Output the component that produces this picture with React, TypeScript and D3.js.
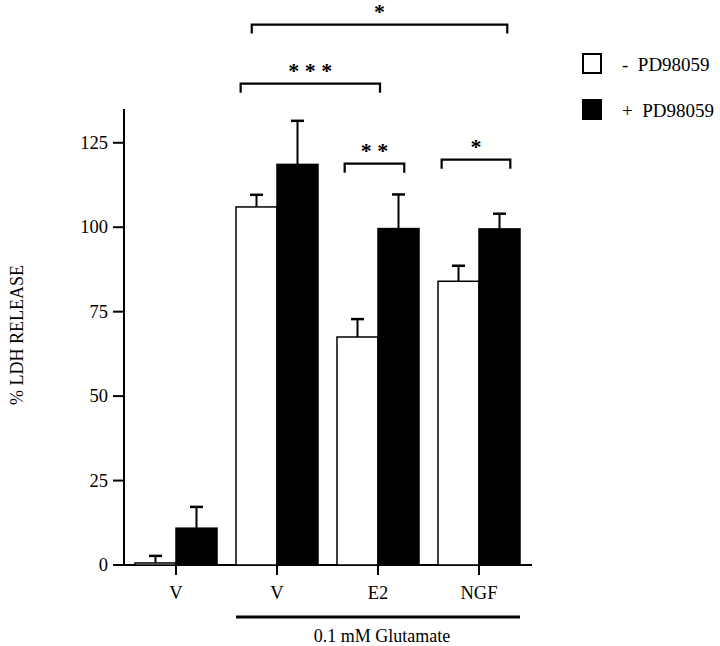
import * as d3 from "d3";
import { useRef, useEffect } from "react";

// Treatment groups along the x axis (first V is without glutamate)
const groups = ["V", "V", "E2", "NGF"];
const seriesNames = ["- PD98059", "+ PD98059"];
// % LDH release
const minusPD = [0.6, 106, 67.5, 84];
const minusPDErr = [2.1, 3.6, 5.3, 4.6];
const plusPD = [10.9, 118.6, 99.6, 99.5];
const plusPDErr = [6.3, 12.9, 10.1, 4.5];
const yTicks = [0, 25, 50, 75, 100, 125];

// Significance brackets: ends given as group index + fraction of a group step, level in % units
const bracketLabels = ["*", "* * *", "* *", "*"];
const bracketFrom = [[1, -0.25], [1, -0.36], [2, -0.33], [3, -0.37]];
const bracketTo = [[3, 0.28], [2, 0.02], [2, 0.26], [3, 0.31]];
const bracketLevels = [160, 142.5, 118.8, 120];

export default function App() {
  const chartRef = useRef(null);
  const width = 720;
  const height = 646;

  useEffect(() => {
    const svg = d3.select(chartRef.current);
    svg.selectAll("*").remove();

    const font = "'Liberation Serif', 'Times New Roman', serif";

    // Scales
    const y = d3.scaleLinear().domain([0, 135]).range([565, 109]);
    const x = d3
      .scaleBand()
      .domain(groups.map((d, i) => String(i)))
      .range([125.5, 529.5])
      .padding(0);
    const step = x.step();
    const barW = 41;
    const center = (i) => x(String(i)) + x.bandwidth() / 2;

    // Axes
    svg
      .append("line")
      .attr("x1", 124)
      .attr("x2", 124)
      .attr("y1", y(135))
      .attr("y2", y(0))
      .attr("stroke", "#000")
      .attr("stroke-width", 2);

    svg
      .append("line")
      .attr("x1", 114)
      .attr("x2", 532)
      .attr("y1", y(0))
      .attr("y2", y(0))
      .attr("stroke", "#000")
      .attr("stroke-width", 2);

    const yt = svg.append("g").selectAll("g").data(yTicks).join("g");
    yt.append("line")
      .attr("x1", 113)
      .attr("x2", 124)
      .attr("y1", (d) => y(d))
      .attr("y2", (d) => y(d))
      .attr("stroke", "#000")
      .attr("stroke-width", 2);
    yt.append("text")
      .attr("x", 108)
      .attr("y", (d) => y(d) + 6)
      .attr("text-anchor", "end")
      .attr("font-family", font)
      .attr("font-size", 18.5)
      .text((d) => d);

    const xt = svg.append("g").selectAll("g").data(groups).join("g");
    xt.append("line")
      .attr("x1", (d, i) => center(i))
      .attr("x2", (d, i) => center(i))
      .attr("y1", y(0))
      .attr("y2", y(0) + 10)
      .attr("stroke", "#000")
      .attr("stroke-width", 2);
    xt.append("text")
      .attr("x", (d, i) => center(i))
      .attr("y", 599)
      .attr("text-anchor", "middle")
      .attr("font-family", font)
      .attr("font-size", 18.5)
      .text((d) => d);

    svg
      .append("text")
      .attr("transform", "translate(23,335) rotate(-90)")
      .attr("text-anchor", "middle")
      .attr("font-family", font)
      .attr("font-size", 18)
      .text("% LDH RELEASE");

    // Glutamate underline
    svg
      .append("line")
      .attr("x1", center(1) - barW)
      .attr("x2", center(3) + barW)
      .attr("y1", 617)
      .attr("y2", 617)
      .attr("stroke", "#000")
      .attr("stroke-width", 3);
    svg
      .append("text")
      .attr("x", (center(1) + center(3)) / 2 + 4)
      .attr("y", 642)
      .attr("text-anchor", "middle")
      .attr("font-family", font)
      .attr("font-size", 18)
      .text("0.1 mM Glutamate");

    // Bars
    const seriesData = [
      { values: minusPD, errs: minusPDErr, fill: "#fff", side: -1 },
      { values: plusPD, errs: plusPDErr, fill: "#000", side: 0 },
    ];

    seriesData.forEach((s) => {
      const g = svg.append("g");
      const left = (i) => center(i) + s.side * barW;
      g.selectAll("line.err")
        .data(s.values)
        .join("line")
        .attr("class", "err")
        .attr("x1", (d, i) => left(i) + barW / 2)
        .attr("x2", (d, i) => left(i) + barW / 2)
        .attr("y1", (d) => y(d))
        .attr("y2", (d, i) => y(d + s.errs[i]))
        .attr("stroke", "#000")
        .attr("stroke-width", 2);
      g.selectAll("line.cap")
        .data(s.values)
        .join("line")
        .attr("class", "cap")
        .attr("x1", (d, i) => left(i) + barW / 2 - 6.5)
        .attr("x2", (d, i) => left(i) + barW / 2 + 6.5)
        .attr("y1", (d, i) => y(d + s.errs[i]))
        .attr("y2", (d, i) => y(d + s.errs[i]))
        .attr("stroke", "#000")
        .attr("stroke-width", 2.5);
      g.selectAll("rect")
        .data(s.values)
        .join("rect")
        .attr("x", (d, i) => left(i))
        .attr("y", (d) => y(d))
        .attr("width", barW)
        .attr("height", (d) => y(0) - y(d))
        .attr("fill", s.fill)
        .attr("stroke", "#000")
        .attr("stroke-width", 1.5);
    });

    // Significance brackets
    const bg = svg
      .append("g")
      .selectAll("g")
      .data(bracketLabels)
      .join("g");
    const bx1 = (i) => center(bracketFrom[i][0]) + bracketFrom[i][1] * step;
    const bx2 = (i) => center(bracketTo[i][0]) + bracketTo[i][1] * step;
    bg.append("path")
      .attr("d", (d, i) => {
        const ly = y(bracketLevels[i]);
        return `M${bx1(i)},${ly + 9}V${ly}H${bx2(i)}V${ly + 9}`;
      })
      .attr("fill", "none")
      .attr("stroke", "#000")
      .attr("stroke-width", 2.2);
    bg.append("text")
      .attr("x", (d, i) => (bx1(i) + bx2(i)) / 2)
      .attr("y", (d, i) => y(bracketLevels[i]) - 6)
      .attr("text-anchor", "middle")
      .attr("font-family", font)
      .attr("font-size", 22)
      .attr("font-weight", "bold")
      .text((d) => d);

    // Legend
    const lg = svg
      .append("g")
      .selectAll("g")
      .data(seriesNames)
      .join("g")
      .attr("transform", (d, i) => `translate(582,${53 + i * 46})`);
    lg.append("rect")
      .attr("x", 1)
      .attr("y", 1)
      .attr("width", 18)
      .attr("height", 19)
      .attr("fill", (d, i) => seriesData[i].fill)
      .attr("stroke", "#000")
      .attr("stroke-width", 2);
    lg.append("text")
      .attr("x", 40)
      .attr("y", 18)
      .attr("font-family", font)
      .attr("font-size", 19)
      .style("white-space", "pre")
      .text((d) => d.replace(" ", "  "));
  }, []);

  return (
    <div style={{ position: "absolute", left: 0, top: 0 }}>
      <svg
        ref={chartRef}
        width={width}
        height={height}
        viewBox={`0 0 ${width} ${height}`}
        style={{ display: "block", background: "#fff" }}
      ></svg>
    </div>
  );
}
